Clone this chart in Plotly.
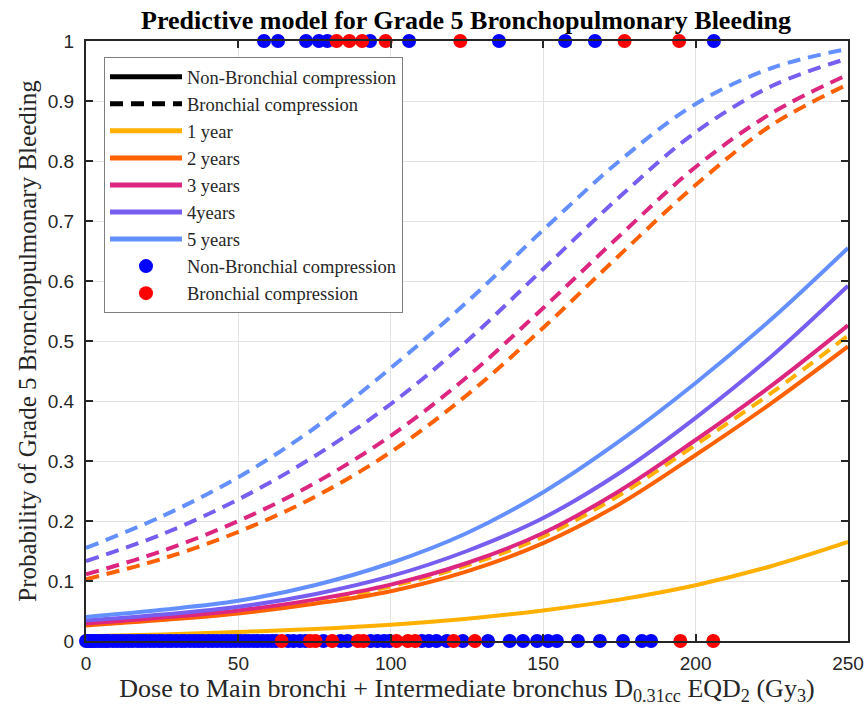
import plotly.graph_objects as go

# ---------------- data ----------------
dose = [0, 25, 50, 75, 100, 125, 150, 175, 200, 225, 250]

# Non-bronchial compression (solid)
nb_1y = [0.008, 0.011, 0.015, 0.020, 0.027, 0.037, 0.051, 0.069, 0.093, 0.125, 0.165]
nb_2y = [0.026, 0.035, 0.046, 0.062, 0.083, 0.116, 0.163, 0.228, 0.310, 0.397, 0.491]
nb_3y = [0.029, 0.039, 0.051, 0.069, 0.094, 0.130, 0.180, 0.250, 0.335, 0.426, 0.526]
nb_4y = [0.034, 0.044, 0.057, 0.078, 0.108, 0.150, 0.205, 0.280, 0.372, 0.475, 0.592]
nb_5y = [0.040, 0.052, 0.067, 0.093, 0.130, 0.180, 0.248, 0.333, 0.430, 0.537, 0.655]

# Bronchial compression (dashed)
bc_1y = [0.028, 0.038, 0.050, 0.067, 0.091, 0.126, 0.174, 0.243, 0.327, 0.414, 0.509]
bc_2y = [0.103, 0.137, 0.182, 0.240, 0.315, 0.410, 0.522, 0.643, 0.760, 0.860, 0.928]
bc_3y = [0.111, 0.150, 0.200, 0.263, 0.342, 0.440, 0.555, 0.675, 0.790, 0.880, 0.944]
bc_4y = [0.133, 0.178, 0.236, 0.308, 0.395, 0.500, 0.620, 0.740, 0.848, 0.925, 0.971]
bc_5y = [0.155, 0.208, 0.273, 0.355, 0.455, 0.565, 0.685, 0.800, 0.895, 0.955, 0.987]

year_labels = ["1 year", "2 years", "3 years", "4years", "5 years"]
year_colors = ["#FFB000", "#FE6100", "#DC267F", "#785EF0", "#648FFF"]

# Observed patients: events (y=1) and non-events (y=0)
blue_top = [58.4, 63.0, 72.2, 76.4, 79.2, 93.2, 106.0, 135.5, 157.2, 167.0, 206.0]
red_top = [82.2, 86.4, 90.6, 98.3, 122.8, 176.7, 194.6]
blue_bottom = [0.0, 0.6, 1.3, 2.1, 3.0, 4.1, 5.2, 6.4, 7.3, 8.8, 10.1, 11.4, 12.6,
               14.0, 15.3, 16.9, 18.2, 19.5, 21.0, 22.4, 23.9, 25.1, 26.7, 28.0,
               29.6, 31.2, 32.5, 34.1, 35.6, 37.0, 38.4, 40.1, 41.5, 43.0, 44.6,
               46.1, 47.5, 49.0, 50.6, 52.1, 53.5, 55.0, 56.4, 58.0, 59.5, 61.0,
               62.4, 66.3, 68.1, 70.2, 72.0, 77.9, 83.5, 85.8, 93.4, 95.6, 97.8,
               99.6, 110.2, 112.5, 115.0, 118.4, 123.6, 131.9, 139.0, 143.4, 148.0,
               151.6, 154.5, 161.4, 168.6, 176.2, 182.4, 185.4]
red_bottom = [64.2, 73.5, 75.3, 80.8, 89.2, 91.0, 101.9, 105.6, 108.0, 120.6,
              127.6, 195.0, 205.8]

x_ticks = [0, 50, 100, 150, 200, 250]
y_ticks = [0, 0.1, 0.2, 0.3, 0.4, 0.5, 0.6, 0.7, 0.8, 0.9, 1]
y_ticktext = ["0", "0.1", "0.2", "0.3", "0.4", "0.5", "0.6", "0.7", "0.8", "0.9", "1"]

# ---------------- figure ----------------
SERIF = "Liberation Serif"
SANS = "Liberation Sans"
LW = 4
DASH = "13px,8px"

fig = go.Figure()

solid_sets = [nb_1y, nb_2y, nb_3y, nb_4y, nb_5y]
dash_sets = [bc_1y, bc_2y, bc_3y, bc_4y, bc_5y]

for ys, col in zip(dash_sets, year_colors):
    fig.add_trace(go.Scatter(x=dose, y=ys, mode="lines",
                             line=dict(color=col, width=LW, dash=DASH, shape="spline", smoothing=1.0),
                             showlegend=False, hoverinfo="skip"))
for ys, col in zip(solid_sets, year_colors):
    fig.add_trace(go.Scatter(x=dose, y=ys, mode="lines",
                             line=dict(color=col, width=LW, shape="spline", smoothing=1.0),
                             showlegend=False, hoverinfo="skip"))

# legend-only entries
fig.add_trace(go.Scatter(x=[None], y=[None], mode="lines", name="Non-Bronchial compression",
                         line=dict(color="black", width=5), legendrank=1))
fig.add_trace(go.Scatter(x=[None], y=[None], mode="lines", name="Bronchial compression",
                         line=dict(color="black", width=5, dash=DASH), legendrank=2))
for i, (lab, col) in enumerate(zip(year_labels, year_colors)):
    fig.add_trace(go.Scatter(x=[None], y=[None], mode="lines", name=lab,
                             line=dict(color=col, width=5), legendrank=3 + i))

fig.add_trace(go.Scatter(x=blue_bottom + blue_top, y=[0] * len(blue_bottom) + [1] * len(blue_top),
                         mode="markers", name="Non-Bronchial compression",
                         marker=dict(color="#0000FF", size=14), cliponaxis=False, legendrank=8))
fig.add_trace(go.Scatter(x=red_bottom + red_top, y=[0] * len(red_bottom) + [1] * len(red_top),
                         mode="markers", name="Bronchial compression",
                         marker=dict(color="#FF0000", size=14), cliponaxis=False, legendrank=9))

axis_common = dict(showline=True, linecolor="#262626", linewidth=2, mirror="ticks",
                   ticks="inside", ticklen=7, tickwidth=1.5, tickcolor="#262626",
                   showgrid=True, gridcolor="#E3E3E3", gridwidth=1, zeroline=False,
                   automargin=False,
                   tickfont=dict(family=SANS, size=19, color="#262626"))

fig.update_layout(
    width=868, height=720,
    margin=dict(l=86, r=20, t=41, b=79, autoexpand=False),
    paper_bgcolor="white", plot_bgcolor="white",
    title=dict(text="<b>Predictive model for Grade 5 Bronchopulmonary Bleeding</b>",
               x=0.537, xanchor="center", y=0.972, yanchor="middle",
               font=dict(family=SERIF, size=26, color="black")),
    xaxis=dict(range=[0, 250], tickvals=x_ticks, ticklabelstandoff=4, **axis_common,
               title=dict(text="Dose to Main bronchi + Intermediate bronchus D<sub>0.31cc</sub> EQD<sub>2</sub> (Gy<sub>3</sub>)",
                          font=dict(family=SERIF, size=26, color="#262626"), standoff=6)),
    yaxis=dict(range=[0, 1], tickvals=y_ticks, ticktext=y_ticktext, ticklabelstandoff=6, **axis_common,
               title=dict(text="Probability of Grade 5 Bronchopulmonary Bleeding",
                          font=dict(family=SERIF, size=25, color="#262626"), standoff=4)),
    legend=dict(x=0.0236, y=0.973, xanchor="left", yanchor="top",
                bgcolor="white", bordercolor="#7F7F7F", borderwidth=1,
                font=dict(family=SERIF, size=18.5, color="#262626"),
                itemwidth=72, tracegroupgap=0),
    showlegend=True,
    hovermode=False,
)

fig.write_html("out.html",
               config={"displayModeBar": False, "staticPlot": False},
               post_script="document.body.style.margin='0px';document.body.style.overflow='hidden';")
